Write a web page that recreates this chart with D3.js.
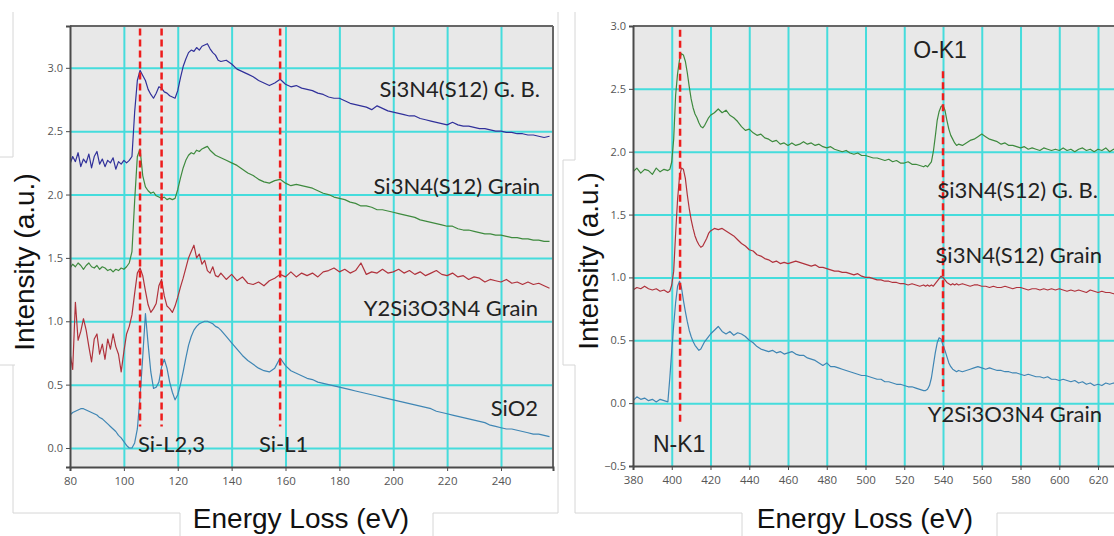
<!DOCTYPE html>
<html><head><meta charset="utf-8">
<script src="https://cdnjs.cloudflare.com/ajax/libs/d3/7.8.5/d3.min.js"></script>
<style>body{margin:0;background:#fff;}svg{display:block;}</style>
</head><body>
<svg id="c" width="1114" height="536"></svg>
<script>
// ---------- LEFT PANEL (Si L-edge) ----------
const energyL = [80,81,82,83,84,85,86,87,88,89,90,91,92,93,94,95,96,97,98,99,100,101,102,103,104,105,106,107,108,109,110,111,112,113,114,115,116,117,118,119,120,121,122,123,124,125,126,127,128,129,130,131,132,133,134,135,
136,138,140,142,144,146,148,150,152,154,156,158,160,162,164,166,168,170,172,174,176,178,180,182,184,186,188,190,192,194,196,198,200,202,204,206,208,210,212,214,216,218,220,222,224,226,228,230,232,234,236,238,240,242,244,246,248,250,252,254,256,258];
const si3n4GBL = [2.24,2.30,2.26,2.33,2.22,2.28,2.25,2.32,2.21,2.30,2.34,2.24,2.28,2.22,2.27,2.25,2.29,2.20,2.26,2.24,2.27,2.25,2.27,2.30,2.65,2.90,2.98,2.94,2.90,2.83,2.79,2.76,2.80,2.85,2.84,2.81,2.80,2.78,2.77,2.76,2.82,2.92,3.01,3.07,3.12,3.14,3.13,3.16,3.14,3.17,3.18,3.19,3.15,3.12,3.10,3.06,
3.05,3.06,3.03,2.99,2.97,2.95,2.93,2.90,2.88,2.86,2.88,2.91,2.87,2.85,2.86,2.84,2.83,2.82,2.80,2.79,2.77,2.76,2.76,2.74,2.72,2.71,2.70,2.69,2.67,2.70,2.68,2.66,2.65,2.64,2.63,2.62,2.62,2.60,2.59,2.58,2.57,2.56,2.55,2.57,2.55,2.54,2.54,2.53,2.52,2.52,2.51,2.50,2.50,2.49,2.49,2.48,2.48,2.47,2.47,2.46,2.45,2.46];
const si3n4GrainL = [1.42,1.45,1.43,1.46,1.44,1.41,1.44,1.46,1.43,1.42,1.44,1.41,1.43,1.42,1.40,1.41,1.39,1.41,1.40,1.42,1.41,1.43,1.46,1.55,1.95,2.30,2.36,2.15,2.06,2.03,2.01,2.02,1.99,1.98,1.97,1.98,1.96,1.97,1.96,1.97,2.04,2.13,2.21,2.27,2.31,2.33,2.32,2.35,2.34,2.36,2.37,2.38,2.35,2.33,2.31,2.30,
2.29,2.27,2.25,2.23,2.20,2.17,2.15,2.12,2.10,2.09,2.11,2.12,2.09,2.07,2.08,2.07,2.06,2.05,2.03,2.01,2.00,1.98,1.97,1.96,1.94,1.93,1.91,1.91,1.90,1.88,1.88,1.87,1.86,1.85,1.84,1.83,1.82,1.80,1.79,1.78,1.77,1.76,1.75,1.75,1.73,1.72,1.72,1.71,1.70,1.69,1.69,1.68,1.68,1.67,1.66,1.66,1.65,1.65,1.64,1.64,1.63,1.63];
const y2GrainL = [0.75,0.62,1.15,0.85,0.92,1.02,0.93,0.80,0.68,0.86,0.90,0.74,0.82,0.70,0.86,0.78,0.90,0.80,0.74,0.60,0.76,0.90,0.96,1.05,1.22,1.38,1.42,1.36,1.24,1.13,1.07,1.10,1.14,1.28,1.33,1.20,1.12,1.10,1.07,1.12,1.19,1.27,1.34,1.42,1.50,1.55,1.60,1.50,1.53,1.45,1.48,1.40,1.38,1.43,1.36,1.35,
1.38,1.33,1.37,1.32,1.35,1.30,1.29,1.31,1.28,1.32,1.34,1.37,1.35,1.39,1.35,1.38,1.36,1.38,1.35,1.39,1.40,1.42,1.39,1.41,1.38,1.40,1.46,1.37,1.39,1.38,1.41,1.38,1.39,1.41,1.38,1.40,1.37,1.39,1.36,1.38,1.40,1.37,1.36,1.38,1.35,1.36,1.33,1.35,1.34,1.31,1.33,1.32,1.31,1.33,1.30,1.31,1.29,1.31,1.29,1.30,1.28,1.26];
const sio2L = [0.26,0.28,0.29,0.30,0.31,0.31,0.30,0.29,0.28,0.27,0.26,0.24,0.23,0.21,0.19,0.17,0.15,0.13,0.10,0.08,0.05,0.02,0.00,0.00,0.04,0.15,0.40,0.72,1.06,0.82,0.60,0.47,0.48,0.52,0.64,0.70,0.63,0.52,0.44,0.38,0.42,0.50,0.60,0.71,0.81,0.88,0.93,0.96,0.98,0.99,1.00,1.00,0.99,0.98,0.96,0.95,
0.93,0.88,0.83,0.78,0.73,0.69,0.66,0.63,0.61,0.60,0.63,0.71,0.65,0.61,0.59,0.57,0.55,0.54,0.52,0.51,0.50,0.49,0.48,0.47,0.46,0.45,0.44,0.43,0.42,0.41,0.40,0.39,0.38,0.37,0.36,0.35,0.34,0.33,0.32,0.31,0.29,0.28,0.27,0.26,0.25,0.24,0.23,0.22,0.21,0.20,0.18,0.17,0.16,0.15,0.15,0.14,0.13,0.12,0.11,0.11,0.10,0.09];
const edgesL = [106, 114, 158];
const xTicksL = [80,100,120,140,160,180,200,220,240];
const yTicksL = [0.0,0.5,1.0,1.5,2.0,2.5,3.0];

// ---------- RIGHT PANEL (N / O K-edge) ----------
const energyR = [380,382,384,386,388,390,392,394,396,398,
399,400,401,402,403,404,405,406,407,408,409,410,411,412,413,414,415,416,417,418,419,420,
422,424,426,428,430,432,434,436,438,440,442,444,446,448,450,452,454,456,458,460,462,464,466,468,470,472,474,476,478,480,482,484,486,488,490,492,494,496,498,500,502,504,506,508,510,512,514,516,518,520,522,524,526,528,530,
531,532,533,534,535,536,537,538,539,540,541,542,543,544,545,546,547,548,
550,552,554,556,558,560,562,564,566,568,570,572,574,576,578,580,582,584,586,588,590,592,594,596,598,600,602,604,606,608,610,612,614,616,618,620,622,624,626,628,630];
const si3n4GBR = [1.84,1.87,1.83,1.86,1.85,1.82,1.87,1.84,1.86,1.85,
1.86,1.92,2.10,2.45,2.62,2.73,2.78,2.77,2.72,2.63,2.52,2.42,2.35,2.30,2.27,2.23,2.20,2.19,2.21,2.24,2.27,2.29,
2.31,2.34,2.31,2.33,2.29,2.27,2.24,2.20,2.17,2.18,2.15,2.13,2.14,2.11,2.10,2.08,2.09,2.06,2.07,2.05,2.07,2.05,2.06,2.08,2.06,2.07,2.05,2.06,2.04,2.03,2.04,2.02,2.01,2.00,2.01,1.99,1.98,1.99,1.97,1.97,1.96,1.95,1.95,1.94,1.93,1.94,1.92,1.93,1.91,1.91,1.92,1.90,1.90,1.89,1.88,
1.89,1.88,1.90,1.92,2.00,2.12,2.25,2.32,2.36,2.37,2.33,2.25,2.18,2.13,2.10,2.07,2.05,2.06,
2.05,2.07,2.09,2.10,2.12,2.14,2.12,2.10,2.09,2.08,2.06,2.07,2.05,2.05,2.04,2.03,2.04,2.02,2.03,2.02,2.01,2.03,2.02,2.01,2.02,2.01,2.03,2.01,2.02,2.00,2.02,2.03,2.01,2.02,2.00,2.02,2.01,2.03,2.00,2.02,2.01];
const si3n4GrainR = [0.90,0.92,0.91,0.93,0.91,0.90,0.91,0.89,0.90,0.88,
0.89,0.94,1.05,1.35,1.62,1.80,1.87,1.86,1.79,1.66,1.55,1.46,1.39,1.33,1.29,1.26,1.24,1.25,1.28,1.31,1.35,1.37,
1.39,1.38,1.39,1.37,1.35,1.33,1.30,1.27,1.25,1.22,1.21,1.18,1.17,1.15,1.14,1.12,1.13,1.11,1.12,1.11,1.12,1.13,1.12,1.11,1.10,1.09,1.10,1.08,1.08,1.07,1.06,1.05,1.05,1.04,1.04,1.03,1.02,1.03,1.01,1.00,1.00,0.99,0.98,0.98,0.97,0.97,0.96,0.96,0.95,0.95,0.94,0.95,0.94,0.93,0.94,
0.93,0.94,0.93,0.94,0.93,0.95,0.97,0.99,1.01,1.00,0.98,0.96,0.95,0.94,0.95,0.94,0.95,0.94,
0.95,0.94,0.93,0.94,0.94,0.93,0.93,0.92,0.93,0.92,0.92,0.93,0.92,0.91,0.92,0.92,0.91,0.90,0.91,0.91,0.90,0.91,0.90,0.91,0.90,0.91,0.90,0.89,0.90,0.89,0.90,0.89,0.88,0.90,0.89,0.88,0.89,0.88,0.88,0.87,0.88];
const y2GrainR = [0.02,0.05,0.03,0.04,0.02,0.03,0.01,0.03,0.02,0.01,
0.20,0.42,0.62,0.80,0.93,0.97,0.92,0.82,0.73,0.65,0.58,0.53,0.49,0.46,0.44,0.42,0.43,0.46,0.49,0.51,0.53,0.55,
0.58,0.61,0.57,0.55,0.57,0.54,0.56,0.55,0.53,0.50,0.48,0.45,0.43,0.42,0.41,0.42,0.40,0.41,0.39,0.40,0.41,0.39,0.38,0.38,0.36,0.35,0.34,0.32,0.30,0.32,0.29,0.29,0.28,0.27,0.26,0.25,0.24,0.23,0.22,0.22,0.21,0.20,0.19,0.19,0.17,0.17,0.16,0.15,0.15,0.14,0.13,0.13,0.12,0.11,0.10,
0.10,0.11,0.14,0.20,0.30,0.40,0.48,0.52,0.51,0.46,0.42,0.37,0.32,0.29,0.27,0.26,0.25,0.26,
0.25,0.26,0.27,0.28,0.29,0.28,0.27,0.28,0.27,0.26,0.26,0.25,0.25,0.24,0.24,0.23,0.22,0.23,0.22,0.21,0.21,0.20,0.21,0.19,0.19,0.18,0.19,0.18,0.17,0.18,0.16,0.17,0.15,0.16,0.14,0.15,0.14,0.16,0.15,0.16,0.16];
const edgesR = [404.3, 540];
const xTicksR = [380,400,420,440,460,480,500,520,540,560,580,600,620];
const yTicksR = [-0.5,0.0,0.5,1.0,1.5,2.0,2.5,3.0];

const svg = d3.select("#c");
const GRID = "#45dcdc", BG = "#e8e8e8", AXIS = "#4a4a4a", RED = "#ee1c1c";
const TICKFONT = "'Open Sans', sans-serif";
const NOTEFONT = "Lato, 'Open Sans', sans-serif";
const TITLEFONT = "'Liberation Sans', Arial, sans-serif";

// faint frame lines of the composed figure
const faint = [
  [13,12,13,157],[13,365,13,513],[13,513,180,513],[433,513,558,513],[558,12,558,513],
  [0,157,13,157],[0,365,15,365],[180,513,180,536],[433,513,433,536],
  [575,12,575,160],[575,365,575,513],[575,513,742,513],[997,513,1114,513],
  [563,160,575,160],[563,160,563,365],[563,365,575,365],[742,513,742,536],[997,513,997,536]
];
svg.append("g").selectAll("line").data(faint).join("line")
  .attr("x1",d=>d[0]).attr("y1",d=>d[1]).attr("x2",d=>d[2]).attr("y2",d=>d[3])
  .attr("stroke","#d6d6d6").attr("stroke-width",1);

function panel(cfg){
  const x = d3.scaleLinear().domain(cfg.xd).range(cfg.xr);
  const y = d3.scaleLinear().domain(cfg.yd).range(cfg.yr);
  const g = svg.append("g");
  const [x0,x1] = cfg.xr, [y1,y0] = cfg.yr;
  g.append("rect").attr("x",x0).attr("y",y0).attr("width",x1-x0).attr("height",y1-y0).attr("fill",BG);
  const cid = "clip"+cfg.id;
  g.append("clipPath").attr("id",cid).append("rect").attr("x",x0).attr("y",y0).attr("width",x1-x0).attr("height",y1-y0);
  // grid
  g.append("g").attr("transform",`translate(0,${y1})`)
    .call(d3.axisBottom(x).tickValues(cfg.xt.filter(v=>v!==cfg.xd[0])).tickSize(-(y1-y0)).tickFormat(""))
    .call(a=>{a.select(".domain").remove(); a.selectAll("line").attr("stroke",GRID).attr("stroke-width",2);});
  g.append("g").attr("transform",`translate(${x0},0)`)
    .call(d3.axisLeft(y).tickValues(cfg.yt.filter(v=>y(v)>y0+2 && y(v)<y1-2)).tickSize(-(x1-x0)).tickFormat(""))
    .call(a=>{a.select(".domain").remove(); a.selectAll("line").attr("stroke",GRID).attr("stroke-width",2);});
  // series
  const line = d3.line().x((d,i)=>x(cfg.energy[i])).y(d=>y(d));
  const lg = g.append("g").attr("clip-path",`url(#${cid})`);
  cfg.series.forEach(s=>{
    lg.append("path").attr("d",line(s.v)).attr("fill","none").attr("stroke",s.c).attr("stroke-width",1.2).attr("stroke-linejoin","round");
  });
  // edge markers
  cfg.edges.forEach(e=>{
    lg.append("line").attr("x1",x(e.x)).attr("x2",x(e.x)).attr("y1",y(e.top)).attr("y2",y(e.bot))
      .attr("stroke",RED).attr("stroke-width",2.5).attr("stroke-dasharray","7,4");
  });
  // frame
  g.append("line").attr("x1",x0).attr("x2",x1).attr("y1",y0).attr("y2",y0).attr("stroke","#666").attr("stroke-width",2);
  if(cfg.rightBorder) g.append("line").attr("x1",x1).attr("x2",x1).attr("y1",y0).attr("y2",y1).attr("stroke","#666").attr("stroke-width",2);
  // axes
  g.append("g").attr("transform",`translate(${x0},0)`)
    .call(d3.axisLeft(y).tickValues(cfg.yt).tickSize(4).tickPadding(3).tickFormat(d3.format(".1f")))
    .call(a=>{a.select(".domain").attr("stroke",AXIS).attr("stroke-width",2);
      a.selectAll("line").attr("stroke",AXIS);
      a.selectAll("text").attr("font-family",TICKFONT).attr("font-size",11).attr("fill","#555");});
  g.append("g").attr("transform",`translate(0,${y1})`)
    .call(d3.axisBottom(x).tickValues(cfg.xt).tickSize(4).tickPadding(6).tickFormat(d3.format("d")))
    .call(a=>{a.select(".domain").attr("stroke",AXIS).attr("stroke-width",2);
      a.selectAll("line").attr("stroke",AXIS);
      a.selectAll("text").attr("font-family",TICKFONT).attr("font-size",11.5).attr("fill","#555");});
  // notes
  cfg.notes.forEach(n=>{
    g.append("text").attr("x",n.x).attr("y",n.y).attr("text-anchor",n.a||"start")
      .attr("font-family",n.f||NOTEFONT).attr("font-size",n.s||22).attr("fill","#222").text(n.t);
  });
  // titles
  g.append("text").attr("x",cfg.xtitle[0]).attr("y",cfg.xtitle[1]).attr("text-anchor","middle")
    .attr("font-family",TITLEFONT).attr("font-size",28).attr("fill","#111").text("Energy Loss (eV)");
  g.append("text").attr("transform",`translate(${cfg.ytitle[0]},${cfg.ytitle[1]}) rotate(-90)`).attr("text-anchor","middle")
    .attr("font-family",TITLEFONT).attr("font-size",28).attr("fill","#111").text("Intensity (a.u.)");
}

panel({
  id:"L", energy: energyL, xd:[80,259.3], xr:[70,553], yd:[-0.15,3.33], yr:[467,26],
  xt:xTicksL, yt:yTicksL, rightBorder:true,
  series:[{v:si3n4GBL,c:"#30309a"},{v:si3n4GrainL,c:"#3e8a3e"},{v:y2GrainL,c:"#b0323c"},{v:sio2L,c:"#3f86b4"}],
  edges: edgesL.map(e=>({x:e, top:3.31, bot:0.17})),
  notes:[
    {t:"Si3N4(S12) G. B.", x:540, y:97, a:"end"},
    {t:"Si3N4(S12) Grain", x:540, y:194, a:"end"},
    {t:"Y2Si3O3N4 Grain", x:538, y:316, a:"end"},
    {t:"SiO2", x:538, y:416, a:"end"},
    {t:"Si-L2,3", x:138, y:452},
    {t:"Si-L1", x:259, y:452}
  ],
  xtitle:[301,528], ytitle:[34,262]
});

panel({
  id:"R", energy: energyR, xd:[380,630], xr:[633,1117.4], yd:[-0.5,3.0], yr:[466,26],
  xt:xTicksR, yt:yTicksR, rightBorder:false,
  series:[{v:si3n4GBR,c:"#3e8a3e"},{v:si3n4GrainR,c:"#b0323c"},{v:y2GrainR,c:"#3f86b4"}],
  edges: [{x:edgesR[0], top:2.97, bot:-0.15},{x:edgesR[1], top:2.64, bot:0.09}],
  notes:[
    {t:"O-K1", x:940, y:58, a:"middle", f:TITLEFONT, s:23},
    {t:"Si3N4(S12) G. B.", x:1098, y:198, a:"end"},
    {t:"Si3N4(S12) Grain", x:1102, y:263, a:"end"},
    {t:"Y2Si3O3N4 Grain", x:1102, y:422, a:"end"},
    {t:"N-K1", x:653, y:452, f:TITLEFONT, s:23}
  ],
  xtitle:[865,528], ytitle:[598,261]
});
</script>
</body></html>
